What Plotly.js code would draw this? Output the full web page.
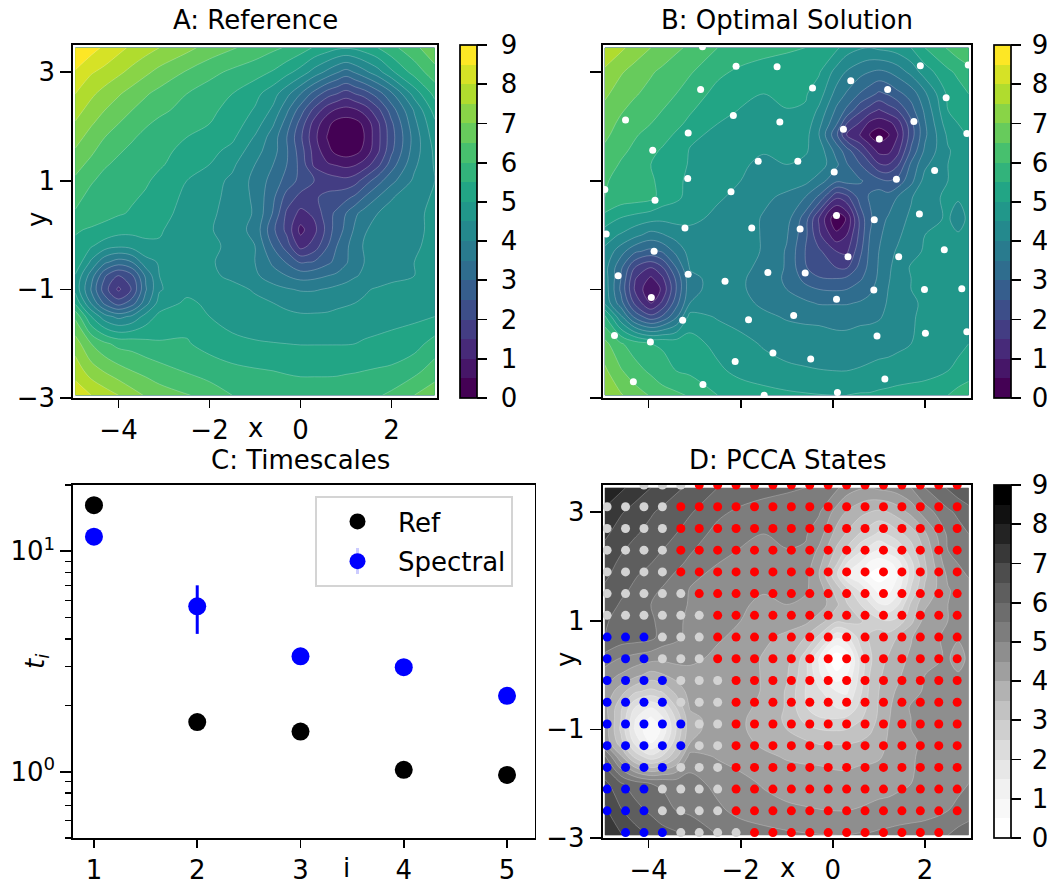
<!DOCTYPE html>
<html><head><meta charset="utf-8">
<script src="https://cdn.plot.ly/plotly-3.0.1.min.js"></script>
<style>html,body{margin:0;padding:0;background:#fff;overflow:hidden;width:1047px;height:879px}#g{width:1047px;height:879px;overflow:hidden}</style>
</head><body><div id="g"></div>
<script>
const xA=[-4.95,-4.6,-4.3,-4,-3.7,-3.4,-3.1,-2.5,-2,-1.5,-1,-0.6,-0.3,0,0.3,0.6,0.8,1,1.2,1.4,1.7,2,2.5,2.95];
const yA=[3.45,3,2.6,2.3,2.05,1.8,1.55,1.3,1,0.7,0.4,0.1,-0.2,-0.5,-0.75,-1,-1.25,-1.5,-2,-2.5,-2.95];
const zA=[
[9.0,8.7,8.4,8.15,7.9,7.7,7.5,7.15,6.8,6.55,6.3,6.1,5.95,5.75,5.45,5.25,5.1,5.05,5.1,5.25,5.5,5.85,6.35,6.9],
[8.45,8.05,7.85,7.6,7.35,7.1,6.85,6.45,6.15,5.9,5.7,5.45,5.15,4.8,4.3,3.85,3.55,3.3,3.55,3.85,4.3,4.9,5.7,6.3],
[8.0,7.6,7.3,7.05,6.8,6.55,6.35,6.0,5.75,5.5,5.15,4.7,4.15,3.5,2.8,2.2,2.0,1.75,2.0,2.2,2.75,3.4,4.7,5.65],
[7.7,7.3,7.0,6.75,6.5,6.3,6.1,5.85,5.6,5.35,4.95,4.4,3.6,2.75,1.85,1.18,0.92,0.82,0.92,1.18,1.85,2.75,4.05,5.2],
[7.45,7.05,6.75,6.5,6.25,6.05,5.9,5.65,5.5,5.25,4.75,4.05,3.25,2.3,1.3,0.62,0.3,0.22,0.3,0.6,1.4,2.4,3.85,4.9],
[7.2,6.8,6.5,6.25,6.05,5.88,5.7,5.5,5.35,5.1,4.45,3.75,3.0,2.1,1.15,0.45,0.12,0.02,0.12,0.5,1.35,2.3,3.7,4.75],
[6.95,6.6,6.25,6.05,5.9,5.77,5.6,5.4,5.15,4.85,4.2,3.7,3.05,2.25,1.3,0.65,0.32,0.22,0.32,0.62,1.4,2.4,3.75,4.6],
[6.7,6.35,6.05,5.9,5.75,5.65,5.55,5.3,5.0,4.6,4.0,3.5,3.0,2.35,1.4,1.05,0.95,0.85,0.95,1.2,1.85,2.75,3.9,4.55],
[6.4,6.05,5.85,5.75,5.65,5.55,5.4,5.0,4.7,4.4,3.85,3.3,2.8,2.35,2.0,1.8,1.7,1.65,1.8,2.2,2.8,3.35,4.1,4.5],
[6.15,5.85,5.75,5.65,5.55,5.45,5.25,4.9,4.65,4.35,3.9,3.1,2.3,1.85,1.95,2.1,2.2,2.35,2.6,3.0,3.5,3.95,4.35,4.55],
[5.95,5.75,5.65,5.55,5.45,5.3,5.15,4.85,4.6,4.3,3.95,2.95,1.9,1.35,1.6,2.35,2.6,3.0,3.4,3.7,4.0,4.2,4.45,4.55],
[5.55,5.45,5.35,5.2,5.15,5.12,5.05,4.75,4.55,4.25,3.85,2.6,1.85,0.85,1.35,2.2,2.8,3.1,3.6,3.95,4.15,4.25,4.4,4.6],
[5.4,5.05,4.75,4.6,4.7,4.9,4.95,4.75,4.6,4.4,4.0,2.95,2.25,1.3,1.7,2.5,3.0,3.4,3.75,4.05,4.2,4.3,4.45,4.6],
[5.4,4.4,3.6,3.25,3.5,4.3,4.55,4.7,4.55,4.35,4.0,3.4,2.95,2.45,2.55,2.9,3.15,3.45,3.75,4.0,4.2,4.3,4.5,4.6],
[4.95,3.75,2.55,1.95,2.4,3.6,4.5,4.75,4.6,4.4,4.1,3.7,3.5,3.3,3.35,3.5,3.6,3.75,3.95,4.1,4.25,4.35,4.5,4.65],
[4.85,3.45,2.2,1.4,2.05,3.45,4.45,4.85,4.8,4.65,4.45,4.2,4.05,3.95,3.95,4.05,4.15,4.25,4.35,4.45,4.55,4.65,4.75,4.85],
[5.4,3.95,2.85,2.25,2.75,3.8,4.7,5.1,4.9,4.75,4.6,4.5,4.42,4.35,4.35,4.4,4.42,4.45,4.5,4.55,4.65,4.75,4.85,4.95],
[6.4,5.0,4.2,3.85,4.1,4.7,5.15,5.3,5.0,4.85,4.7,4.62,4.58,4.55,4.55,4.55,4.6,4.65,4.7,4.75,4.8,4.85,4.9,5.0],
[7.25,6.5,6.1,5.85,5.8,5.65,5.55,5.55,5.3,5.1,5.05,5.02,5.0,4.98,4.98,4.98,4.98,4.98,5.0,5.05,5.1,5.15,5.3,5.7],
[7.8,7.25,6.95,6.7,6.5,6.35,6.2,5.95,5.8,5.65,5.55,5.5,5.45,5.42,5.42,5.42,5.43,5.45,5.47,5.5,5.55,5.6,5.85,6.25],
[8.3,8.0,7.75,7.5,7.2,6.95,6.75,6.55,6.25,6.0,5.95,5.85,5.8,5.75,5.75,5.75,5.75,5.8,5.82,5.85,5.95,6.1,6.5,6.8]];
const xB=[-4.95,-4.6,-4.3,-3.95,-3.7,-3.4,-3.1,-2.5,-2,-1.5,-1,-0.6,-0.3,0.08,0.3,0.6,0.8,1,1.2,1.4,1.7,2,2.5,2.72,2.95];
const yB=[3.45,3,2.6,2.3,2.05,1.85,1.55,1.3,1,0.7,0.3,0,-0.3,-0.6,-0.8,-1,-1.25,-1.5,-2,-2.5,-2.95];
const zB=[
[7.9,7.6,7.3,7.0,6.8,6.6,6.4,6.0,5.8,5.7,5.6,5.5,5.45,5.1,4.75,4.55,4.5,4.6,4.65,4.75,5.0,5.5,6.05,6.3,6.5],
[7.4,7.05,6.8,6.55,6.4,6.2,6.05,5.6,5.4,5.25,5.15,5.1,5.05,4.3,3.95,3.65,3.5,3.4,3.5,3.7,4.15,4.75,5.4,5.6,5.8],
[7.1,6.75,6.55,6.35,6.2,6.0,5.75,5.35,5.15,5.0,5.15,5.05,4.75,3.8,3.45,2.95,2.7,2.4,2.55,2.85,3.2,3.9,5.1,5.3,5.5],
[6.85,6.55,6.35,6.15,6.0,5.8,5.55,5.2,4.97,4.95,4.98,4.95,4.4,3.4,2.9,2.1,1.75,1.45,1.75,2.0,2.8,3.6,5.0,5.15,5.3],
[6.7,6.4,6.2,6.0,5.8,5.6,5.4,5.0,4.9,4.85,4.85,4.8,4.15,3.05,2.0,1.4,0.85,0.7,0.8,1.2,2.35,3.45,4.8,5.0,5.15],
[6.6,6.3,6.05,5.85,5.65,5.45,5.1,4.9,4.8,4.7,4.75,4.7,4.0,2.6,1.5,0.95,0.5,0.2,0.45,0.95,2.25,3.4,4.6,4.85,5.05],
[6.4,6.1,5.9,5.6,5.45,5.25,4.97,4.85,4.7,4.55,4.6,4.55,4.3,3.3,2.75,1.95,1.35,0.85,0.85,1.3,2.6,3.6,4.45,4.65,4.8],
[6.25,5.95,5.8,5.5,5.4,5.2,4.95,4.8,4.6,4.35,4.5,4.4,4.3,3.6,3.05,2.5,2.1,1.55,1.5,1.9,3.1,3.9,4.5,4.6,4.75],
[6.05,5.85,5.75,5.55,5.4,5.1,4.9,4.75,4.5,4.3,4.2,4.15,3.75,3.1,3.2,3.05,2.85,2.65,2.5,2.65,3.35,4.2,4.5,4.65,4.75],
[6.0,5.8,5.75,5.65,5.3,5.1,4.85,4.55,4.4,4.1,3.9,3.5,2.9,1.6,1.85,2.75,3.05,3.3,3.2,3.5,3.95,4.4,4.55,4.55,4.6],
[5.3,4.95,4.8,4.65,4.6,4.65,4.6,4.4,4.25,3.95,3.7,2.75,1.45,0.05,0.55,2.2,2.9,3.3,3.55,3.8,4.1,4.35,4.55,4.3,4.6],
[4.7,4.45,4.15,3.8,3.95,4.2,4.35,4.4,4.25,3.95,3.55,2.65,1.6,0.65,1.0,2.2,3.0,3.4,3.7,3.9,4.25,4.5,4.6,4.55,4.6],
[4.4,3.7,3.1,2.85,3.05,3.65,4.2,4.4,4.25,3.95,3.45,2.5,2.1,1.5,1.4,2.4,3.1,3.5,3.85,4.05,4.35,4.55,4.6,4.65,4.7],
[4.2,3.1,2.0,1.5,1.95,3.0,4.05,4.3,4.15,3.85,3.45,2.55,2.2,2.0,1.95,2.7,3.15,3.55,3.9,4.2,4.55,4.6,4.65,4.7,4.75],
[4.25,3.0,1.55,0.9,1.4,2.6,3.85,4.2,4.05,3.85,3.4,2.85,2.55,2.5,2.6,2.95,3.2,3.6,3.95,4.2,4.5,4.6,4.7,4.75,4.8],
[4.3,2.9,1.45,0.55,1.1,2.5,3.85,4.2,4.05,3.85,3.5,3.15,3.0,2.95,3.0,3.2,3.4,3.7,4.0,4.25,4.5,4.6,4.7,4.75,4.8],
[4.4,3.2,1.9,0.95,1.6,2.8,4.0,4.35,4.15,3.9,3.75,3.6,3.45,3.45,3.45,3.55,3.65,3.8,4.05,4.25,4.45,4.55,4.7,4.75,4.8],
[5.6,4.1,2.85,2.15,2.55,3.4,4.7,4.45,4.3,4.1,3.95,3.9,3.9,3.85,3.85,3.9,3.9,3.95,4.1,4.3,4.45,4.6,4.7,4.8,4.85],
[6.65,6.05,5.75,5.5,5.45,5.3,5.2,4.85,4.65,4.45,4.3,4.25,4.2,4.15,4.15,4.2,4.25,4.3,4.35,4.4,4.5,4.6,4.8,4.9,5.0],
[7.1,6.55,6.2,5.9,5.65,5.5,5.4,5.1,4.85,4.7,4.6,4.55,4.52,4.5,4.5,4.55,4.6,4.65,4.65,4.7,4.75,4.8,5.0,5.1,5.2],
[7.45,7.05,6.75,6.45,6.25,6.1,5.95,5.5,5.3,5.2,5.1,5.05,5.02,5.0,5.0,5.05,5.05,5.1,5.15,5.2,5.25,5.3,5.5,5.7,5.9]];
const samplesX=[-2.83,-2.10,-1.21,1.90,2.94,0.39,1.19,-0.44,-2.87,2.46,-2.16,-1.15,-4.50,1.76,0.23,1.01,-3.14,2.91,-3.91,-1.62,-0.76,0.03,2.21,-3.15,1.38,-4.95,-2.21,-3.86,1.88,0.08,0.90,-1.76,-0.71,-3.21,-4.92,-3.88,2.42,0.33,1.43,-1.41,-0.60,-3.14,-4.66,-2.34,0.89,1.99,2.80,-3.94,0.08,-0.85,-3.26,-1.83,2.01,0.96,2.91,-4.74,-3.96,-1.30,-0.48,-2.12,1.13,-4.33,-2.82,-1.49,0.10];
const samplesY=[3.47,3.11,3.10,3.12,3.13,2.84,2.68,2.71,2.68,2.53,2.20,2.08,2.12,2.09,1.95,1.77,1.88,1.87,1.56,1.36,1.36,1.16,1.19,1.04,1.03,0.84,0.80,0.64,0.39,0.36,0.28,0.13,0.11,0.13,0.02,-0.30,-0.27,-0.40,-0.40,-0.69,-0.70,-0.72,-0.75,-0.85,-1.01,-1.00,-0.99,-1.15,-1.18,-1.48,-1.57,-1.56,-1.81,-1.86,-1.78,-1.85,-1.97,-2.17,-2.28,-2.33,-2.65,-2.70,-2.75,-2.95,-2.90];
const modes=[1,2,3,4,5];
const refT=[16.2,1.68,1.52,1.02,0.966];
const specT=[11.66,5.63,3.34,2.98,2.21];
const specErrUp=[0,1.38,0,0,0];
const specErrDn=[0,1.41,0,0,0];
const pccaX=[-4.9,-4.5,-4.1,-3.7,-3.3,-2.9,-2.5,-2.1,-1.7,-1.3,-0.9,-0.5,-0.1,0.3,0.7,1.1,1.5,1.9,2.3,2.7];
const pccaY=[3.5,3.1,2.7,2.3,1.9,1.5,1.1,0.7,0.3,-0.1,-0.5,-0.9,-1.3,-1.7,-2.1,-2.5,-2.9];
const pccaStates=[
"..GGGRRRRRRRRRRRRRRR",
"GGGGRRRRRRRRRRRRRRRR",
"GGGGRRRRRRRRRRRRRRRR",
"GGGGRRRRRRRRRRRRRRRR",
"GGGGRRRRRRRRRRRRRRRR",
"GGGGGRRRRRRRRRRRRRRR",
"GGGGGGRRRRRRRRRRRRRR",
"BBBGGGRRRRRRRRRRRRRR",
"BBBGGGRRRRRRRRRRRRRR",
"BBBBGGGRRRRRRRRRRRRR",
"BBBBGGGRRRRRRRRRRRRR",
"BBBBBGGRRRRRRRRRRRRR",
"BBBBBGGRRRRRRRRRRRRR",
"BBBBGGGRRRRRRRRRRRRR",
"BBBGGGGRRRRRRRRRRRRR",
"BBBGGGGRRRRRRRRRRRRR",
".BBBGGGGRRRRRRRRRRR."];
const colorbarTicks=[0,1,2,3,4,5,6,7,8,9];
const viridisBands=["#440154","#461668","#472a79","#433d83","#3d4e89","#365e8d","#2f6d8e","#297b8e","#24898d","#21978a","#22a585","#32b37b","#47c06e","#67cb5c","#89d447","#b0dc2e","#d6e226","#fde725"];
const greyBands=["#ffffff","#f8f8f8","#f1f1f1","#e7e7e7","#dcdcdc","#cfcfcf","#c2c2c2","#b2b2b2","#9f9f9f","#8e8e8e","#7d7d7d","#6d6d6d","#5e5e5e","#4d4d4d","#383838","#232323","#111111","#000000"];

const W=1075,H=879,FS=26,FONT='"DejaVu Sans", sans-serif',LW=1.7;
const fx=p=>p/W, fy=p=>1-p/H;
const contourScale=b=>{const s=[[0,b[0]]];b.forEach((c,k)=>s.push([(k+1)/19,c]));s.push([1,b[17]]);return s;};
const barScale=b=>{const s=[];b.forEach((c,k)=>{s.push([k/18,c]);s.push([(k+1)/18,c]);});return s;};
const cont=(x,y,z,b,xa,ya)=>({type:'contour',x,y,z,xaxis:xa,yaxis:ya,showscale:false,autocontour:false,
  contours:{start:0,end:9,size:0.5,coloring:'fill',showlines:true},
  line:{color:'rgba(255,255,255,0.4)',width:0.6,smoothing:1},colorscale:contourScale(b),hoverinfo:'skip',showlegend:false});
const bar=(b,xa,ya,left,top,bottom,prefix)=>({type:'scatter',mode:'markers',x:[null],y:[null],xaxis:xa,yaxis:ya,showlegend:false,hoverinfo:'skip',
  marker:{color:[0],cmin:0,cmax:9,colorscale:barScale(b),showscale:true,
    colorbar:{x:fx(left),xanchor:'left',xpad:0,ypad:0,y:fy(bottom),yanchor:'bottom',lenmode:'pixels',len:bottom-top,thicknessmode:'pixels',thickness:17,
      outlinecolor:'#000',outlinewidth:LW,borderwidth:0,tickmode:'array',tickvals:colorbarTicks,ticktext:colorbarTicks.map(v=>prefix+v),ticks:'outside',ticklen:10,tickwidth:LW,tickcolor:'#000',
      tickfont:{size:FS,color:'#000',family:FONT}}}});
const dots=(st,color)=>{const x=[],y=[];pccaStates.forEach((r,j)=>[...r].forEach((c,i)=>{if(c===st){x.push(pccaX[i]);y.push(pccaY[j]);}}));
  return {type:'scatter',mode:'markers',x,y,xaxis:'x4',yaxis:'y4',marker:{color,size:9},showlegend:false,hoverinfo:'skip'};};

const traces=[
 cont(xA,yA,zA,viridisBands,'x','y'),bar(viridisBands,'x','y',459.5,45,398,'\u00a0'),
 cont(xB,yB,zB,viridisBands,'x2','y2'),bar(viridisBands,'x2','y2',994,45,398,'\u2009'),
 {type:'scatter',mode:'markers',x:samplesX,y:samplesY,xaxis:'x2',yaxis:'y2',marker:{color:'#fff',size:7},showlegend:false,hoverinfo:'skip'},
 {type:'scatter',mode:'markers',name:'Ref',x:modes,y:refT,xaxis:'x3',yaxis:'y3',legendgroup:'a',marker:{color:'#000',size:18}},
 {type:'scatter',mode:'markers',name:'Spectral',x:modes,y:specT,xaxis:'x3',yaxis:'y3',legendgroup:'b',marker:{color:'#0000ff',size:18},
   error_y:{type:'data',symmetric:false,array:specErrUp,arrayminus:specErrDn,color:'#0000ff',thickness:3,width:0}},
 cont(xB,yB,zB,greyBands,'x4','y4'),bar(greyBands,'x4','y4',994,485,838,'\u2009'),
 dots('G','#d3d3d3'),dots('R','#ff0000'),dots('B','#0000ff')
];
const axBase={showgrid:false,zeroline:false,showline:true,mirror:true,linecolor:'#000',linewidth:LW,ticks:'outside',ticklen:8,tickwidth:LW,tickcolor:'#000',
  tickfont:{size:FS,color:'#000',family:FONT},automargin:false};
const yBase=Object.assign({},axBase,{ticklen:11});
const xAx=(l,r,a,labels=true)=>Object.assign({},axBase,{domain:[fx(l),fx(r)],range:[-5,3],tickmode:'array',tickvals:[-4,-2,0,2],showticklabels:labels,anchor:a});
const yAx=(t,b,a,labels=true)=>Object.assign({},yBase,{domain:[fy(b),fy(t)],range:[-3,3.5],tickmode:'array',tickvals:[-3,-1,1,3],showticklabels:labels,anchor:a});
const ann=(text,x,y,extra={})=>Object.assign({text,x:fx(x),y:fy(y),xref:'paper',yref:'paper',xanchor:'center',yanchor:'middle',showarrow:false,font:{size:FS,color:'#000',family:FONT}},extra);
const layout={width:W,height:H,margin:{l:0,r:0,t:0,b:0},paper_bgcolor:'#fff',plot_bgcolor:'#fff',font:{family:FONT,size:FS,color:'#000'},
 xaxis:xAx(73,437,'y'),yaxis:yAx(45,398,'x'),
 xaxis2:xAx(602.5,971,'y2',false),yaxis2:yAx(45,398,'x2',false),
 xaxis3:Object.assign({},axBase,{domain:[fx(73),fx(534.5)],range:[0.797,5.266],tickmode:'array',tickvals:modes,anchor:'y3'}),
 yaxis3:Object.assign({},yBase,{domain:[fy(838),fy(485)],type:'log',range:[Math.log10(0.5),Math.log10(20)],tickmode:'array',tickvals:[1,10],ticktext:['10<sup>0</sup>','10<sup>1</sup>'],anchor:'x3',
   minor:{ticks:'outside',ticklen:6,tickwidth:1.2,tickcolor:'#000',tickmode:'array',tickvals:[0.5,0.6,0.7,0.8,0.9,2,3,4,5,6,7,8,9,20],showgrid:false}}),
 xaxis4:xAx(602.5,971,'y4'),yaxis4:yAx(485,838,'x4'),
 legend:{x:fx(315),xanchor:'left',y:fy(496),yanchor:'top',bgcolor:'rgba(255,255,255,0.8)',bordercolor:'#d4d4d4',borderwidth:2,font:{size:FS,color:'#000',family:FONT},itemwidth:71,entrywidth:121,entrywidthmode:'pixels',traceorder:'grouped',tracegroupgap:3},
 shapes:[{type:'line',xref:'paper',yref:'paper',x0:fx(357.5),x1:fx(357.5),y0:fy(548),y1:fy(574),line:{color:'#0000ff',width:3}}],
 annotations:[
  ann('A: Reference',255,20),ann('B: Optimal Solution',787,20),ann('C: Timescales',300,460),ann('D: PCCA States',787,460),
  ann('x',255,428),ann('x',787,868),ann('i',346,868),
  ann('y',37,220,{textangle:-90}),ann('y',566,660,{textangle:-90}),ann('<i>t<sub>i</sub></i>',36,662,{textangle:-90})
 ]};
Plotly.newPlot('g',traces,layout,{displayModeBar:false,staticPlot:true});
</script></body></html>
